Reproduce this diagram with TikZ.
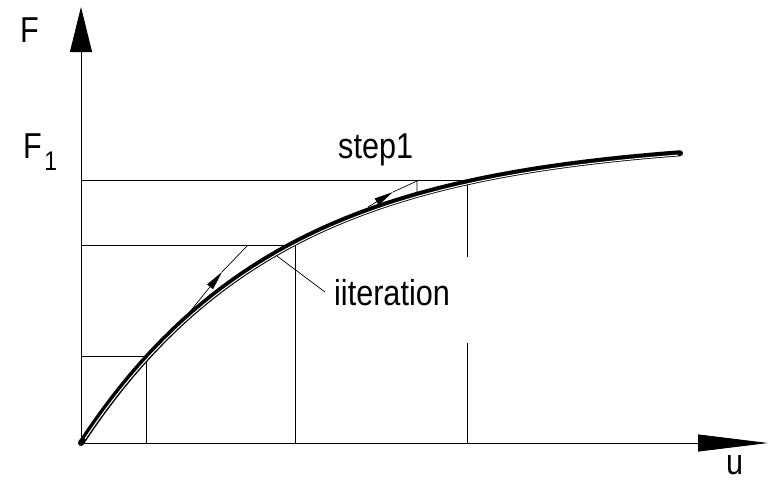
\documentclass[tikz,border=0pt]{standalone}
\usepackage{graphicx}
\usepackage{fontspec}
\setmainfont{Liberation Sans}
\usetikzlibrary{arrows.meta}

\newcommand{\narrowtext}[1]{\scalebox{0.85}[1]{#1}}

\begin{document}
\begin{tikzpicture}[
  x=1pt, y=-1pt,
  axis/.style={line width=0.9pt},
  guide/.style={line width=0.7pt},
  curve/.style={line width=6pt, line cap=round},
  lbl/.style={font=\fontsize{36}{36}\selectfont, inner sep=0pt, anchor=base west},
  iterarrow/.style={guide, -{Triangle[length=19pt,width=7.5pt]}}
]
\useasboundingbox (0,0) rectangle (777,482);

% points on the load path
\coordinate (O) at (81,443);
\coordinate (Ftip) at (81,7);
\coordinate (utip) at (768,443);
\coordinate (p1) at (146,356);
\coordinate (p2) at (295,245);
\coordinate (p3) at (467,180);

% axes
\draw[axis, -{Triangle[length=45pt,width=22pt]}] (O) -- (Ftip);
\draw[axis, -{Triangle[length=70pt,width=17pt]}] (O) -- (utip);

% load levels
\draw[guide] (81,356) -- (p1) -- (146,443);
\draw[guide] (81,245) -- (p2) -- (295,443);
\draw[guide] (81,180) -- (p3) -- (467,257);
\draw[guide] (467,343) -- (467,443);

% load-displacement curve
\draw[curve] plot[domain=0:599, samples=60] ({81+\x},{443-305*(1-exp(-\x/200))});
\draw[white, line width=1pt, yshift=-1.7pt] plot[domain=4:597, samples=60] ({81+\x},{443-305*(1-exp(-\x/200))});

% tangent steps
\coordinate (t1a) at (188,314);
\coordinate (t1m) at (222,272);
\coordinate (t1b) at (248,245);
\draw[iterarrow] (t1a) -- (t1m);
\draw[guide] (t1m) -- (t1b);
\coordinate (t2a) at (368,207);
\coordinate (t2m) at (393,192);
\coordinate (t2b) at (417,181);
\draw[iterarrow] (t2a) -- (t2m);
\draw[guide] (t2m) -- (t2b) -- (417,192);

% labels
\node[lbl] (lF) at (20,42) {\narrowtext{F}};
\node[lbl] (lF1) at (23,158) {\narrowtext{F\hspace{3pt}\raisebox{-12pt}{\fontsize{27}{27}\selectfont 1}}};
\node[lbl] (lstep) at (338,158) {\narrowtext{step1}};
\node[lbl] (liter) at (334,305) {\narrowtext{iiteration}};
\node[lbl] (lu) at (726,474) {\narrowtext{u}};
\coordinate (lead) at (277,256);
\draw[guide] (lead) -- (325,292);
\end{tikzpicture}
\end{document}
